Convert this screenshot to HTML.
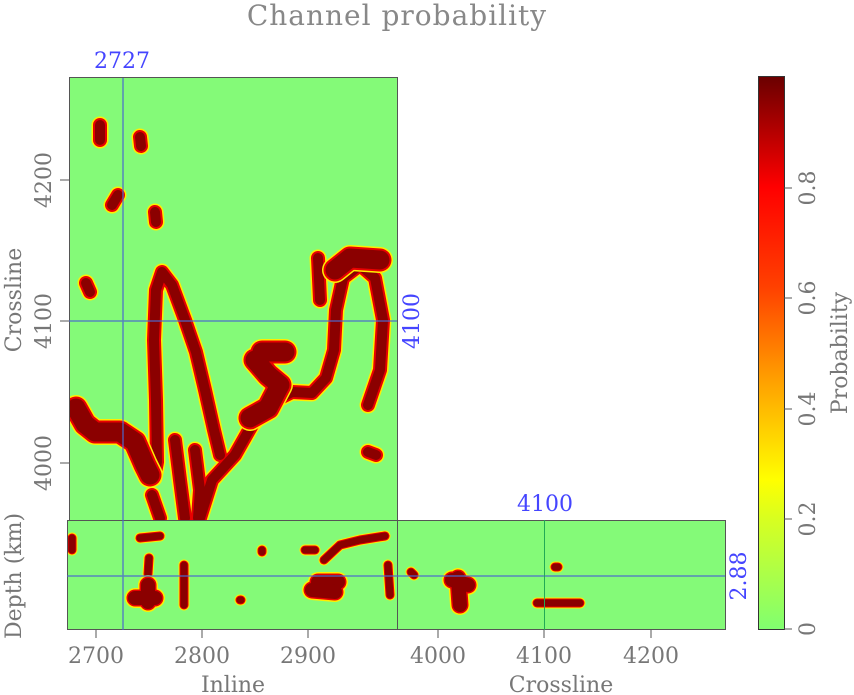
<!DOCTYPE html>
<html><head><meta charset="utf-8"><style>
body{margin:0;background:#fff;width:854px;height:695px;overflow:hidden}
svg{display:block}
text{font-family:"DejaVu Serif","Liberation Serif",serif;}
</style></head><body>
<svg width="854" height="695" viewBox="0 0 854 695" xmlns="http://www.w3.org/2000/svg">
<defs>
<linearGradient id="cb" x1="0" y1="1" x2="0" y2="0">
<stop offset="0" stop-color="#80ff70"/>
<stop offset="0.2" stop-color="#d8ff20"/>
<stop offset="0.27" stop-color="#ffff00"/>
<stop offset="0.45" stop-color="#ffa000"/>
<stop offset="0.62" stop-color="#ff4000"/>
<stop offset="0.8" stop-color="#ff0000"/>
<stop offset="1" stop-color="#6a0000"/>
</linearGradient>
<clipPath id="ct"><rect x="69" y="78" width="328" height="442"/></clipPath>
<clipPath id="cb1"><rect x="67" y="520" width="658" height="110"/></clipPath>
<g id="thin">
<path d="M154,478 L157,462 L156,400 L154,340 L156,290 L162,272 L172,285 L185,320 L196,352 L205,390 L214,430 L220,455"/>
<path d="M200,518 L212,480 L235,455 L252,425 L270,403 L292,392 L312,393 L326,378 L334,350 L336,310 L343,278 L360,265 L375,278 L383,320 L380,370 L368,405"/>
<path d="M318,258 L320,300"/>
<path d="M175,440 L180,480 L185,518"/>
<path d="M195,450 L200,490 L198,518"/>
<path d="M152,495 L160,518"/>
<path d="M368,452 L376,455"/>
<path d="M140,137 L141,146"/>
<path d="M155,212 L156,222"/>
<path d="M86,283 L90,292"/>
<path d="M118,195 L112,205"/>
<path d="M100,125 L100,140"/>
</g>
<g id="thick">
<path d="M76,408 L85,424 L95,432 L120,432 L135,442 L145,465 L150,475"/>
<path d="M255,360 L268,375 L280,385 L268,408 L250,418"/>
<path d="M262,352 L285,352"/>
<path d="M335,270 L350,258 L380,260"/>
</g>
<g id="bot">
<path d="M72,550 L72,538"/>
<path d="M140,538 L160,536"/>
<path d="M149,558 L148,574"/>
<path d="M184,565 L184,605"/>
<path d="M324,560 L340,545 L360,540 L385,536"/>
<path d="M305,550 L315,550"/>
<path d="M388,565 L390,595"/>
<path d="M411,572 L414,575"/>
<path d="M555,567 L558,567"/>
<path d="M537,603 L580,603"/>
<path d="M262,550 L262,552"/>
<path d="M240,600 L241,600"/>
</g>
<g id="botbig">
<path d="M135,598 L155,598"/>
<path d="M148,585 L148,602"/>
<path d="M318,582 L338,582"/>
<path d="M312,590 L335,592"/>
<path d="M458,578 L460,605"/>
<path d="M452,580 L468,585"/>
</g>
</defs>
<text x="397" y="25" font-size="28" fill="#888" text-anchor="middle" style="letter-spacing:1px">Channel probability</text>
<rect x="69" y="78" width="328" height="442" fill="#84fa78"/>
<rect x="67" y="520" width="658" height="110" fill="#84fa78"/>
<g clip-path="url(#ct)" fill="none" stroke-linecap="round" stroke-linejoin="round">
<use href="#thin" stroke="#ffee00" stroke-width="17"/>
<use href="#thin" stroke="#e80000" stroke-width="14"/>
<use href="#thin" stroke="#8b0000" stroke-width="10"/>
<use href="#thick" stroke="#ffee00" stroke-width="26"/>
<use href="#thick" stroke="#e80000" stroke-width="23"/>
<use href="#thick" stroke="#8b0000" stroke-width="19"/>
</g>
<g clip-path="url(#cb1)" fill="none" stroke-linecap="round" stroke-linejoin="round">
<use href="#bot" stroke="#ffee00" stroke-width="11"/>
<use href="#bot" stroke="#e80000" stroke-width="9"/>
<use href="#bot" stroke="#8b0000" stroke-width="7"/>
<use href="#botbig" stroke="#ffee00" stroke-width="20"/>
<use href="#botbig" stroke="#e80000" stroke-width="17"/>
<use href="#botbig" stroke="#8b0000" stroke-width="14"/>
</g>
<g stroke="#555" fill="none" stroke-width="1">
<rect x="69.5" y="77.5" width="328" height="443"/>
<rect x="67.5" y="520.5" width="658" height="109"/>
<line x1="397.5" y1="520" x2="397.5" y2="630"/>
</g>
<g stroke="#4a6acd" stroke-width="1.5" opacity="0.8">
<line x1="123" y1="78" x2="123" y2="630"/>
<line x1="69" y1="321" x2="397" y2="321"/>
<line x1="67" y1="576" x2="725" y2="576"/>
</g>
<line x1="544.5" y1="520" x2="544.5" y2="630" stroke="#2a5" stroke-width="1"/>
<g fill="#4545ff" font-size="22">
<text x="122" y="68" text-anchor="middle">2727</text>
<text x="545" y="511" text-anchor="middle">4100</text>
<text transform="translate(419,321) rotate(-90)" text-anchor="middle">4100</text>
<text transform="translate(746,576) rotate(-90)" text-anchor="middle">2.88</text>
</g>
<g stroke="#555"><line x1="60" y1="180" x2="69" y2="180"/><line x1="60" y1="321" x2="69" y2="321"/><line x1="60" y1="463" x2="69" y2="463"/>
<line x1="96" y1="630" x2="96" y2="638"/><line x1="202" y1="630" x2="202" y2="638"/><line x1="308" y1="630" x2="308" y2="638"/>
<line x1="438" y1="630" x2="438" y2="638"/><line x1="544" y1="630" x2="544" y2="638"/><line x1="651" y1="630" x2="651" y2="638"/></g>
<g fill="#777" font-size="22">
<text transform="translate(51,180) rotate(-90)" text-anchor="middle">4200</text>
<text transform="translate(51,321) rotate(-90)" text-anchor="middle">4100</text>
<text transform="translate(51,463) rotate(-90)" text-anchor="middle">4000</text>
<text transform="translate(21,300) rotate(-90)" text-anchor="middle">Crossline</text>
<text transform="translate(21,576) rotate(-90)" text-anchor="middle">Depth (km)</text>
<text x="96" y="663" text-anchor="middle">2700</text>
<text x="202" y="663" text-anchor="middle">2800</text>
<text x="308" y="663" text-anchor="middle">2900</text>
<text x="438" y="663" text-anchor="middle">4000</text>
<text x="544" y="663" text-anchor="middle">4100</text>
<text x="651" y="663" text-anchor="middle">4200</text>
<text x="233" y="692" text-anchor="middle">Inline</text>
<text x="561" y="692" text-anchor="middle">Crossline</text>
</g>
<rect x="758.5" y="76.5" width="26" height="553" fill="url(#cb)" stroke="#333"/>
<g stroke="#555"><line x1="784" y1="629" x2="792" y2="629"/><line x1="784" y1="519" x2="792" y2="519"/><line x1="784" y1="409" x2="792" y2="409"/><line x1="784" y1="298" x2="792" y2="298"/><line x1="784" y1="188" x2="792" y2="188"/></g>
<g fill="#777" font-size="22">
<text transform="translate(815,629) rotate(-90)" text-anchor="middle">0</text>
<text transform="translate(815,519) rotate(-90)" text-anchor="middle">0.2</text>
<text transform="translate(815,409) rotate(-90)" text-anchor="middle">0.4</text>
<text transform="translate(815,298) rotate(-90)" text-anchor="middle">0.6</text>
<text transform="translate(815,188) rotate(-90)" text-anchor="middle">0.8</text>
<text transform="translate(847,353) rotate(-90)" text-anchor="middle">Probability</text>
</g>
</svg>
</body></html>
